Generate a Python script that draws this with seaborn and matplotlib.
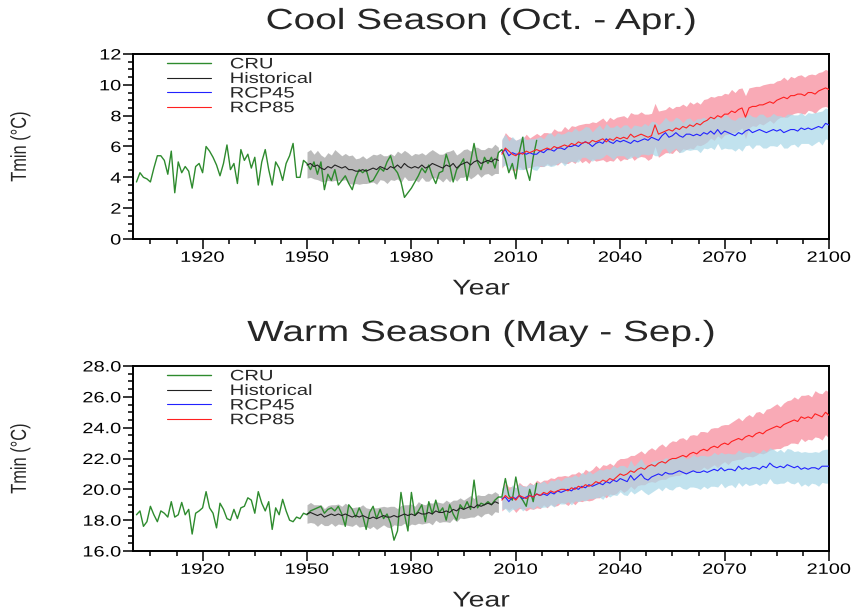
import numpy as np
import pandas as pd
import matplotlib
matplotlib.use("Agg")
import matplotlib.pyplot as plt
import seaborn as sns
from matplotlib.ticker import MultipleLocator, FixedLocator, FormatStrFormatter
from matplotlib.patheffects import AbstractPathEffect
from matplotlib.transforms import Affine2D

# ---------------- data ----------------
cru_years = list(range(1901, 2017))
hist_years = list(range(1950, 2006))
rcp_years = list(range(2006, 2101))
xtick_vals = [1920, 1950, 1980, 2010, 2040, 2070, 2100]
series_labels = ["CRU", "Historical", "RCP45", "RCP85"]

cool_cru = [3.7, 4.3, 4.0, 3.9, 3.7, 4.6, 5.4, 5.4, 5.1, 4.2,
            5.7, 3.0, 5.0, 4.3, 4.7, 4.4, 3.3, 4.7, 4.9, 4.3,
            6.0, 5.7, 5.3, 4.8, 4.1, 4.9, 6.1, 4.5, 4.9, 3.6,
            5.8, 5.1, 5.5, 4.6, 5.3, 3.5, 5.0, 5.8, 4.5, 3.5,
            5.0, 4.6, 3.8, 4.9, 5.4, 6.2, 4.0, 4.0, 5.1, 4.9,
            4.5, 5.0, 4.2, 5.0, 3.2, 4.2, 3.8, 4.5, 3.5, 3.8,
            4.1, 3.6, 3.2, 4.0, 4.5, 4.3, 4.5, 3.7, 3.8, 4.2,
            4.6, 4.4, 5.0, 5.4, 4.6, 4.3, 3.7, 2.7, 3.0, 3.3,
            3.7, 4.1, 4.6, 4.3, 4.8, 4.1, 3.6, 4.3, 4.4, 5.5,
            4.8, 3.7, 4.5, 4.8, 5.2, 3.8, 5.0, 6.2, 5.0, 4.5,
            5.3, 4.9, 5.3, 4.6, 5.6, 5.8, 5.2, 4.3, 4.9, 3.9,
            5.6, 6.6, 4.6, 3.8, 5.3, 6.4]
cool_hist = [4.8, 4.9, 4.7, 4.8, 4.6, 4.5, 4.7, 4.6, 4.8, 4.7,
             4.6, 4.7, 4.5, 4.5, 4.4, 4.4, 4.5, 4.4, 4.5, 4.6,
             4.5, 4.7, 4.6, 4.5, 4.7, 4.6, 4.8, 4.6, 4.9, 4.7,
             4.6, 4.7, 4.6, 4.8, 4.6, 4.7, 4.9, 4.8, 4.7, 4.6,
             4.8, 4.7, 4.9, 4.6, 4.8, 4.9, 5.0, 4.8, 5.0, 5.1,
             4.9, 5.0, 5.1, 5.0, 5.2, 5.1]
cool_hist_spread = [0.85, 0.9, 0.8, 0.95, 0.85, 0.8, 0.9, 0.85, 1.0, 0.9,
                    0.8, 0.85, 0.9, 0.95, 0.8, 0.85, 0.9, 0.8, 0.85, 0.9,
                    0.95, 0.85, 0.8, 0.9, 0.85, 0.8, 0.9, 0.95, 0.85, 0.9,
                    0.8, 0.85, 0.9, 0.8, 0.85, 0.95, 0.9, 0.85, 0.8, 0.9,
                    0.85, 1.0, 0.9, 0.85, 0.8, 0.9, 0.85, 0.9, 0.95, 0.85,
                    0.9, 0.8, 0.85, 0.9, 0.95, 0.85]
cool_rcp45 = [5.6, 5.8, 5.4, 5.6, 5.5, 5.5, 5.6, 5.5, 5.6, 5.5,
              5.5, 5.7, 5.6, 5.8, 5.8, 5.7, 5.9, 5.9, 5.8, 6.0,
              6.0, 6.1, 6.0, 6.2, 6.3, 6.2, 6.0, 6.2, 6.3, 6.2,
              6.5, 6.3, 6.2, 6.4, 6.3, 6.4, 6.3, 6.2, 6.4, 6.3,
              6.4, 6.5, 6.4, 6.6, 6.5, 6.4, 6.7, 6.9, 6.6, 6.7,
              6.9, 6.7, 6.6, 6.8, 6.8, 6.7, 6.8, 6.7, 6.9, 6.8,
              7.0, 6.8, 7.1, 6.8, 7.0, 6.9, 6.8, 6.7, 6.9, 6.8,
              7.0, 7.1, 6.9, 7.0, 7.1, 7.0, 6.9, 7.0, 7.1, 7.0,
              7.1, 6.9, 7.0, 7.1, 7.1, 7.0, 7.2, 7.1, 7.2, 7.1,
              7.2, 7.3, 7.2, 7.5, 7.4]
cool_rcp45_spread = [0.9, 1.0, 0.95, 1.05, 0.9, 1.0, 1.1, 0.95, 0.9, 1.0,
                     1.05, 0.95, 0.9, 1.0, 1.1, 0.95, 1.0, 0.9, 1.05, 1.0,
                     0.95, 1.1, 1.0, 0.9, 1.0, 1.05, 0.95, 1.0, 1.1, 0.9,
                     1.0, 0.95, 1.05, 1.0, 0.9, 1.0, 1.1, 0.95, 1.0, 1.05,
                     0.9, 1.0, 0.95, 1.05, 1.1, 1.0, 0.9, 1.0, 1.05, 0.95,
                     1.0, 1.1, 0.95, 1.0, 1.05, 0.9, 1.0, 1.1, 1.0, 0.95,
                     1.05, 1.0, 0.9, 1.0, 1.1, 1.05, 0.95, 1.0, 1.0, 1.1,
                     0.95, 1.0, 1.05, 0.9, 1.0, 1.1, 1.0, 0.95, 1.05, 1.0,
                     0.9, 1.0, 1.1, 1.0, 0.95, 1.05, 1.0, 0.9, 1.0, 1.05,
                     1.0, 0.95, 1.1, 1.0, 1.0]
cool_rcp85 = [5.5, 5.9, 5.7, 5.5, 5.4, 5.6, 5.5, 5.7, 5.6, 5.7,
              5.8, 5.7, 5.8, 5.9, 5.8, 6.0, 5.9, 6.0, 6.1, 6.0,
              6.2, 6.1, 6.3, 6.2, 6.3, 6.2, 6.4, 6.3, 6.4, 6.5,
              6.3, 6.5, 6.4, 6.6, 6.5, 6.6, 6.5, 6.8, 6.6, 6.7,
              6.8, 6.7, 6.6, 6.7, 7.4, 6.8, 6.9, 7.0, 7.1, 7.0,
              7.2, 7.1, 7.3, 7.2, 7.4, 7.3, 7.5, 7.4, 7.6, 7.7,
              7.9, 7.8, 8.0, 7.9, 8.1, 8.1, 8.3, 8.2, 8.4, 8.5,
              7.9, 8.5, 8.6, 8.6, 8.7, 8.7, 8.8, 8.9, 8.8, 9.0,
              9.1, 9.2, 9.1, 9.3, 9.3, 9.4, 9.4, 9.3, 9.5, 9.5,
              9.4, 9.6, 9.7, 9.8, 9.7]
cool_rcp85_spread = [0.9, 1.0, 0.95, 1.05, 1.0, 0.9, 1.0, 1.1, 0.95, 1.0,
                     1.05, 1.0, 1.1, 1.0, 1.05, 1.15, 1.1, 1.0, 1.2, 1.1,
                     1.15, 1.2, 1.1, 1.25, 1.2, 1.3, 1.2, 1.25, 1.3, 1.35,
                     1.3, 1.4, 1.35, 1.3, 1.45, 1.4, 1.35, 1.4, 1.5, 1.4,
                     1.45, 1.4, 1.5, 1.45, 1.4, 1.5, 1.45, 1.4, 1.5, 1.45,
                     1.4, 1.5, 1.45, 1.4, 1.5, 1.45, 1.4, 1.35, 1.45, 1.4,
                     1.35, 1.4, 1.3, 1.4, 1.35, 1.3, 1.4, 1.3, 1.35, 1.3,
                     1.4, 1.3, 1.25, 1.3, 1.2, 1.3, 1.25, 1.2, 1.3, 1.25,
                     1.2, 1.3, 1.2, 1.25, 1.15, 1.2, 1.25, 1.2, 1.15, 1.2,
                     1.25, 1.2, 1.15, 1.2, 1.2]

warm_cru = [18.35, 18.6, 17.6, 17.9, 18.9, 18.35, 17.9, 18.6, 18.45, 18.2,
            19.2, 18.2, 18.35, 19.15, 18.35, 18.7, 17.1, 18.45, 18.6, 18.8,
            19.85, 18.8, 18.45, 17.5, 19.1, 18.7, 18.1, 18.0, 18.7, 18.1,
            18.8, 18.9, 19.45, 19.3, 18.45, 19.85, 19.1, 18.6, 19.2, 17.4,
            18.8, 18.35, 19.35, 18.6, 18.0, 17.9, 18.2, 18.1, 18.45, 18.35,
            18.6, 18.7, 18.8, 18.9, 18.45, 18.7, 18.8, 18.6, 18.9, 18.4,
            17.6, 19.0, 18.7, 18.2, 18.8, 18.3, 17.4, 18.5, 18.9, 18.1,
            18.7, 18.1, 18.4, 17.8, 16.7, 17.3, 19.8, 18.4, 17.3, 19.8,
            18.3, 18.6, 19.0, 17.9, 19.2, 18.4, 19.3, 18.5, 18.8, 18.0,
            19.0, 18.4, 18.0, 19.0, 18.7, 19.2, 18.7, 20.6, 18.8, 19.1,
            19.0, 19.2, 19.0, 19.3, 19.5, 19.5, 20.7, 19.6, 19.3, 20.8,
            19.6, 19.3, 18.9, 20.0, 19.2, 20.4]
warm_hist = [18.4, 18.5, 18.4, 18.3, 18.4, 18.2, 18.3, 18.4, 18.3, 18.4,
             18.3, 18.4, 18.3, 18.2, 18.3, 18.2, 18.3, 18.2, 18.1, 18.2,
             18.1, 18.2, 18.3, 18.2, 18.2, 18.3, 18.2, 18.3, 18.4, 18.3,
             18.4, 18.3, 18.5, 18.4, 18.4, 18.5, 18.4, 18.6, 18.5, 18.5,
             18.6, 18.5, 18.7, 18.6, 18.8, 18.7, 18.8, 18.9, 18.8, 19.0,
             18.9, 19.0, 19.1, 19.0, 19.2, 19.1]
warm_hist_spread = [0.6, 0.65, 0.6, 0.7, 0.6, 0.55, 0.65, 0.6, 0.7, 0.65,
                    0.6, 0.7, 0.65, 0.6, 0.55, 0.65, 0.7, 0.6, 0.65, 0.6,
                    0.7, 0.65, 0.6, 0.65, 0.7, 0.6, 0.55, 0.65, 0.6, 0.7,
                    0.65, 0.6, 0.7, 0.65, 0.6, 0.65, 0.7, 0.6, 0.65, 0.6,
                    0.7, 0.65, 0.6, 0.7, 0.65, 0.6, 0.65, 0.7, 0.6, 0.65,
                    0.7, 0.6, 0.65, 0.7, 0.65, 0.6]
warm_rcp45 = [19.4, 19.5, 19.2, 19.5, 19.4, 19.6, 19.4, 19.5, 19.6, 19.5,
              19.7, 19.6, 19.7, 19.6, 19.8, 19.7, 19.9, 19.8, 19.9, 20.0,
              19.9, 20.1, 20.0, 20.2, 20.1, 20.3, 20.2, 20.3, 20.4, 20.3,
              20.5, 20.4, 20.6, 20.5, 20.7, 20.6, 20.5, 20.9, 20.6, 20.8,
              21.0, 20.7, 20.6, 20.8, 20.9, 21.0, 20.9, 21.1, 21.0, 21.0,
              21.1, 21.2, 21.1, 21.0, 21.1, 21.2, 21.1, 21.1, 21.2, 21.1,
              21.2, 21.3, 21.2, 21.4, 21.2, 21.3, 21.3, 21.2, 21.5, 21.3,
              21.4, 21.3, 21.4, 21.4, 21.3, 21.5, 21.4, 21.7, 21.5, 21.4,
              21.5, 21.4, 21.6, 21.5, 21.4, 21.5, 21.3, 21.4, 21.3, 21.4,
              21.4, 21.3, 21.5, 21.5, 21.5]
warm_rcp45_spread = [0.7, 0.75, 0.7, 0.8, 0.7, 0.75, 0.8, 0.7, 0.75, 0.8,
                     0.75, 0.8, 0.85, 0.75, 0.8, 0.85, 0.8, 0.75, 0.85, 0.8,
                     0.9, 0.85, 0.8, 0.9, 0.85, 0.9, 0.8, 0.85, 0.9, 0.95,
                     0.85, 0.9, 0.95, 0.9, 0.85, 0.95, 0.9, 1.0, 0.9, 0.95,
                     1.0, 0.9, 0.95, 1.0, 0.95, 0.9, 1.0, 0.95, 1.0, 1.05,
                     0.95, 1.0, 1.05, 1.0, 0.95, 1.05, 1.0, 1.1, 1.0, 1.05,
                     1.0, 1.1, 1.05, 1.0, 1.1, 1.05, 1.0, 1.1, 1.05, 1.1,
                     1.0, 1.05, 1.1, 1.0, 1.05, 1.1, 1.05, 1.0, 1.1, 1.05,
                     1.1, 1.0, 1.05, 1.1, 1.05, 1.0, 1.1, 1.05, 1.1, 1.0,
                     1.05, 1.1, 1.05, 1.1, 1.1]
warm_rcp85 = [19.3, 19.6, 19.4, 19.5, 19.3, 19.6, 19.5, 19.4, 19.6, 19.5,
              19.7, 19.6, 19.8, 19.7, 19.9, 19.8, 19.9, 20.0, 20.0, 19.9,
              20.1, 20.0, 20.2, 20.1, 20.3, 20.2, 20.3, 20.5, 20.4, 20.6,
              20.5, 20.7, 20.6, 20.8, 21.0, 20.9, 21.0, 21.2, 21.1, 21.3,
              21.4, 21.3, 21.5, 21.6, 21.5, 21.7, 21.8, 21.7, 21.9, 22.0,
              22.0, 22.1, 22.2, 22.1, 22.3, 22.4, 22.3, 22.5, 22.6, 22.5,
              22.7, 22.8, 22.7, 22.9, 23.0, 22.9, 23.1, 23.2, 23.3, 23.2,
              23.4, 23.5, 23.4, 23.6, 23.7, 23.6, 23.8, 23.9, 24.0, 24.1,
              24.0, 24.2, 24.3, 24.4, 24.5, 24.4, 24.7, 24.6, 24.7, 24.6,
              24.9, 24.8, 24.7, 25.0, 24.8]
warm_rcp85_spread = [0.7, 0.8, 0.75, 0.7, 0.8, 0.85, 0.75, 0.8, 0.85, 0.8,
                     0.9, 0.85, 0.8, 0.9, 0.85, 0.9, 0.95, 0.85, 0.9, 0.95,
                     0.9, 1.0, 0.95, 0.9, 1.0, 0.95, 1.0, 1.05, 0.95, 1.0,
                     1.05, 1.0, 0.95, 1.05, 1.0, 1.1, 1.05, 1.0, 1.1, 1.05,
                     1.1, 1.0, 1.05, 1.1, 1.05, 1.1, 1.15, 1.05, 1.1, 1.15,
                     1.1, 1.2, 1.15, 1.1, 1.2, 1.15, 1.2, 1.25, 1.15, 1.2,
                     1.25, 1.2, 1.3, 1.25, 1.2, 1.3, 1.25, 1.3, 1.35, 1.25,
                     1.3, 1.35, 1.3, 1.4, 1.35, 1.3, 1.4, 1.35, 1.4, 1.45,
                     1.35, 1.4, 1.45, 1.4, 1.5, 1.45, 1.4, 1.5, 1.45, 1.4,
                     1.5, 1.45, 1.5, 1.45, 1.5]

panels = [
    dict(title="Cool Season (Oct. - Apr.)", cru=cool_cru, hist=cool_hist,
         hist_sp=cool_hist_spread, r45=cool_rcp45, r45_sp=cool_rcp45_spread,
         r85=cool_rcp85, r85_sp=cool_rcp85_spread, ylim=(0, 12), yfmt="%d"),
    dict(title="Warm Season (May - Sep.)", cru=warm_cru, hist=warm_hist,
         hist_sp=warm_hist_spread, r45=warm_rcp45, r45_sp=warm_rcp45_spread,
         r85=warm_rcp85, r85_sp=warm_rcp85_spread, ylim=(16, 28), yfmt="%.1f"),
]


# widen glyphs (the original figure is horizontally stretched relative to its height)
class Stretch(AbstractPathEffect):
    def __init__(self, sx=1.0, sy=1.0, anchor="center"):
        super().__init__()
        self.sx, self.sy, self.anchor = sx, sy, anchor

    def draw_path(self, renderer, gc, tpath, affine, rgbFace=None):
        ext = tpath.get_extents()
        if self.anchor == "left":
            ax0 = ext.x0
        elif self.anchor == "right":
            ax0 = ext.x1
        else:
            ax0 = (ext.x0 + ext.x1) / 2.0
        cy = (ext.y0 + ext.y1) / 2.0
        t = Affine2D().translate(-ax0, -cy).scale(self.sx, self.sy).translate(ax0, cy)
        renderer.draw_path(gc, tpath, t + affine, rgbFace)


K = 1.33
sns.set_theme(style="white")
plt.rcParams['font.family'] = ['Liberation Sans', 'DejaVu Sans']

fig = plt.figure(figsize=(8.58, 6.12), dpi=100)
fig.patch.set_facecolor("white")
axes_rects = [[133 / 858, 1 - 239 / 612, 696 / 858, 185 / 612],
              [133 / 858, 1 - 551 / 612, 696 / 858, 185 / 612]]
title_y = [21, 333]

for p, rect, ty in zip(panels, axes_rects, title_y):
    ax = fig.add_axes(rect)
    ax.set_facecolor("white")
    h = np.array(p["hist"]); hs = np.array(p["hist_sp"])
    a = np.array(p["r45"]); asp = np.array(p["r45_sp"])
    b = np.array(p["r85"]); bsp = np.array(p["r85_sp"])
    ax.fill_between(rcp_years, b - bsp, b + bsp, color="#f9aab6", lw=0, zorder=1)
    ax.fill_between(rcp_years, a - asp, a + asp, color="#a9d8e8", alpha=0.72, lw=0, zorder=2)
    ax.fill_between(hist_years, h - hs, h + hs, color="#b8b8b8", alpha=0.95, lw=0, zorder=2)
    sns.lineplot(x=cru_years, y=p["cru"], ax=ax, color="#2e8b2e", lw=1.0, zorder=4)
    sns.lineplot(x=hist_years, y=p["hist"], ax=ax, color="#222222", lw=0.8, zorder=4)
    sns.lineplot(x=rcp_years, y=p["r45"], ax=ax, color="#2222ff", lw=0.8, zorder=4)
    sns.lineplot(x=rcp_years, y=p["r85"], ax=ax, color="#ff2020", lw=0.8, zorder=5)

    ax.set_xlim(1900, 2100)
    ax.set_ylim(*p["ylim"])
    ax.xaxis.set_major_locator(FixedLocator(xtick_vals))
    ax.xaxis.set_minor_locator(MultipleLocator(7.5))
    ax.yaxis.set_major_locator(MultipleLocator(2))
    ax.yaxis.set_minor_locator(MultipleLocator(0.5))
    ax.yaxis.set_major_formatter(FormatStrFormatter(p["yfmt"]))
    for s in ax.spines.values():
        s.set_visible(True)
        s.set_linewidth(1.4)
        s.set_color("black")
    ax.tick_params(which="both", direction="out", top=False, right=False,
                   bottom=True, left=True, width=1.1, colors="black")
    ax.tick_params(which="major", length=7, labelsize=10.8, pad=1.5)
    ax.tick_params(which="minor", length=3.5)

    ax.set_xlabel("Year", fontsize=15.4)
    ax.xaxis.set_label_coords(0.5, -(289 - 239) / 185)
    ax.xaxis.label.set_va("center")
    ax.set_ylabel("Tmin (°C)", fontsize=11.8)
    ax.yaxis.set_label_coords(-(133 - 20) / 696, 0.5)
    ax.yaxis.label.set_va("center")
    ax.xaxis.label.set_path_effects([Stretch(K, 1)])
    ax.yaxis.label.set_path_effects([Stretch(1, K)])

    lines = ax.get_lines()[:4]
    leg = ax.legend(lines, series_labels, loc="upper left",
                    bbox_to_anchor=(0.0484, 0.982), frameon=False, fontsize=10.9,
                    handlelength=2.91, handletextpad=1.28, labelspacing=0.04,
                    borderaxespad=0, borderpad=0)
    for t in leg.get_texts():
        t.set_path_effects([Stretch(K, 1, "left")])

    t = fig.text(481 / 858, 1 - ty / 612, p["title"], ha="center", va="center", fontsize=21)
    t.set_path_effects([Stretch(K, 1)])

fig.canvas.draw()
for ax in fig.axes:
    for tk in ax.xaxis.get_major_ticks():
        tk.label1.set_path_effects([Stretch(K, 1)])
    for tk in ax.yaxis.get_major_ticks():
        tk.label1.set_path_effects([Stretch(K, 1, "right")])

fig.savefig("out.png", dpi=100, facecolor="white")
